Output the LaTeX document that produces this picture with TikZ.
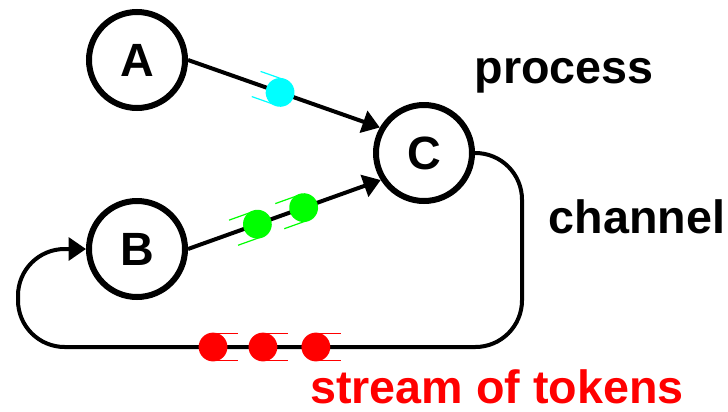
\documentclass[tikz,border=0pt]{standalone}
\usepackage{fontspec}
\setmainfont{Liberation Sans}
\usetikzlibrary{arrows.meta,calc}
\definecolor{tokred}{RGB}{255,0,0}
\definecolor{tokgreen}{RGB}{0,255,0}
\definecolor{tokcyan}{RGB}{0,255,255}
\tikzset{
  proc/.style={circle, draw, line width=4.5pt, minimum size=72pt, inner sep=0pt,
    font=\fontsize{35}{42}\selectfont\bfseries},
  chan/.style={line width=3pt, -{Triangle[length=13pt,width=17pt]}},
  lbl/.style={font=\fontsize{35}{42}\selectfont\bfseries, inner sep=0pt, anchor=base},
  pics/token/.style={code={
    \draw[#1, line width=0.9pt] (0pt,10pt) -- (-19pt,10pt) (0pt,-10pt) -- (-19pt,-10pt);
    \fill[#1] (0pt,0pt) circle[radius=10.8pt];
  }}
}
\begin{document}
\begin{tikzpicture}[x=0.75pt, y=-0.75pt]
  \useasboundingbox (0,0) rectangle (728,411);

  % processes
  \node[proc] (A) at (137,60) {A};
  \node[proc] (B) at (137,249) {B};
  \node[proc] (C) at (424,153) {C};

  % corners of the feedback channel
  \coordinate (ne) at (522,153);
  \coordinate (se) at (522,347);
  \coordinate (sw) at (18,347);
  \coordinate (nw) at (18,249);

  % channels
  \draw[chan] (A.east) -- (C.150);
  \draw[chan] (B.east) -- (C.212);
  \draw[chan, rounded corners=35pt] (C.east) -- (ne) -- (se) -- (sw) -- (nw) -- (B.west);

  % tokens travelling along the channels
  \path let \p1=($(C.150)-(A.east)$), \n1={atan2(\y1,\x1)} in
    pic[rotate=\n1] at ($(A.east)!0.48!(C.150)$) {token=tokcyan};
  \path let \p1=($(C.212)-(B.east)$), \n1={atan2(\y1,\x1)} in
    pic[rotate=\n1] at ($(B.east)!0.36!(C.212)$) {token=tokgreen}
    pic[rotate=\n1] at ($(B.east)!0.60!(C.212)$) {token=tokgreen};
  \path pic[rotate=180] at ($(sw)!0.387!(se)$) {token=tokred}
        pic[rotate=180] at ($(sw)!0.486!(se)$) {token=tokred}
        pic[rotate=180] at ($(sw)!0.591!(se)$) {token=tokred};

  % labels
  \node[lbl] (lproc) at (564,83) {process};
  \node[lbl] (lchan) at (637,233) {channel};
  \node[lbl, text=tokred] (lstream) at (497,403) {stream of tokens};
\end{tikzpicture}
\end{document}
